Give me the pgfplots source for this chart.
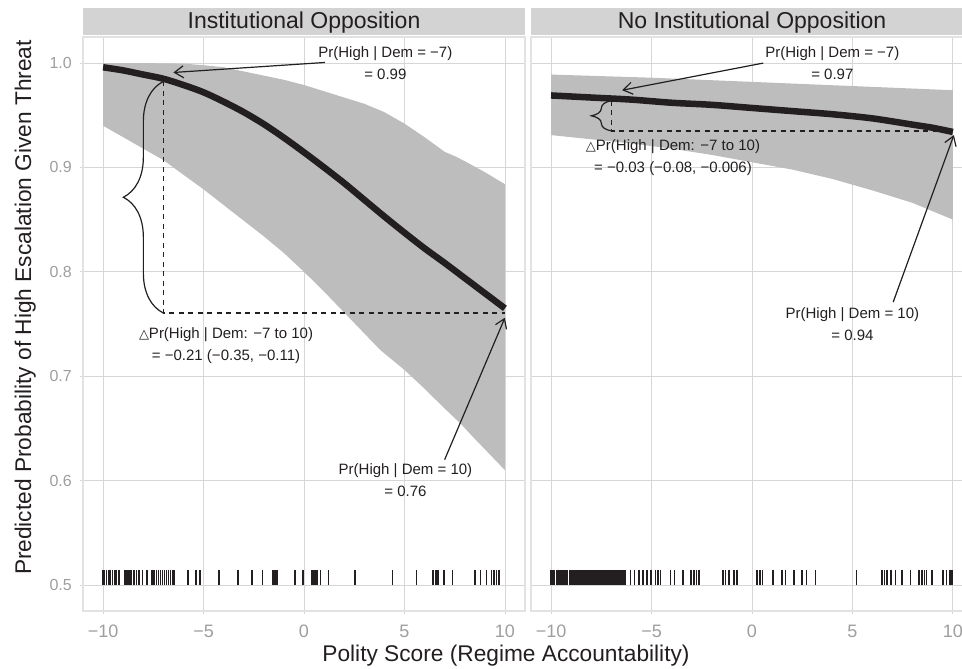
\documentclass[border=0pt]{standalone}
\usepackage{pgfplots}
\pgfplotsset{compat=1.18}
\usepgfplotslibrary{fillbetween}
\usetikzlibrary{arrows.meta,decorations.pathreplacing}
\usepackage{fontspec}
\setmainfont{Liberation Sans}
\newfontfamily\dejavu{DejaVu Sans}

\definecolor{band}{HTML}{BDBDBD}
\definecolor{gridc}{HTML}{D6D6D6}
\definecolor{borderc}{HTML}{E2E2E2}
\definecolor{stripc}{HTML}{D3D3D3}
\definecolor{tickc}{HTML}{9E9E9E}
\definecolor{ink}{HTML}{231F20}

\pgfplotsset{
  panel/.style={
    scale only axis, anchor=south west, height=574pt,
    ymin=0.475, ymax=1.025, xmin=-11,
    xtick={-10,-5,0,5,10}, xticklabels={−10,−5,0,5,10},
    ytick={0.5,0.6,0.7,0.8,0.9,1.0},
    xtick pos=bottom, ytick pos=left,
    grid=major, grid style={draw=gridc, line width=0.8pt},
    axis line style={draw=borderc, line width=1.2pt},
    tick align=outside, major tick length=3pt,
    tick style={draw=gridc, line width=0.8pt},
    xticklabel style={font=\fontsize{18}{18}\selectfont, text=tickc, inner sep=0pt, yshift=-11pt},
    yticklabel style={font=\fontsize{16}{16}\selectfont, text=tickc, inner sep=0pt, xshift=-8pt},
  },
  mean/.style={ink, line width=6.5pt, smooth, line cap=butt},
  rug/.style={only marks, mark=|, mark size=7.4pt, mark options={ink, line width=1.6pt}},
}
\tikzset{
  annot/.style={font=\fontsize{15}{22}\selectfont, align=center, text=ink},
  arr/.style={ink, line width=1.2pt, -{Straight Barb[length=9pt, width=12pt, line width=1.2pt]}},
  dashln/.style={ink, line width=1.3pt, dash pattern=on 5pt off 4.5pt},
  brc/.style={ink, line width=1.2pt, decorate},
}
\newcommand{\tri}{{\dejavu\fontsize{13}{13}\selectfont △}}

\begin{document}
\begin{tikzpicture}

% ---- Institutional Opposition ----
\begin{axis}[panel, at={(83pt,58pt)}, width=442pt, xmax=11,
  yticklabels={0.5,0.6,0.7,0.8,0.9,1.0}]
\addplot[name path=upL, draw=none, forget plot] coordinates {
 (-10,1.000) (-8,1.000) (-6,0.9995) (-5,0.998) (-4,0.996) (-3,0.992) (-2,0.988)
 (-1,0.984) (0,0.979) (1,0.973) (2,0.967) (3,0.961) (4,0.953) (5,0.942)
 (6,0.929) (7,0.915) (7.6,0.910) (8,0.906) (9,0.8955) (10,0.884)};
\addplot[name path=loL, draw=none, forget plot] coordinates {
 (-10,0.940) (-9,0.929) (-8,0.918) (-7,0.907) (-6,0.893) (-5,0.879) (-4,0.864)
 (-3,0.849) (-2,0.834) (-1,0.818) (0,0.800) (1,0.781) (2,0.761) (3,0.741)
 (3.8,0.725) (5,0.706) (6,0.688) (7,0.669) (7.77,0.655) (8.5,0.640) (9.3,0.624) (10,0.610)};
\addplot[band, draw=none] fill between[of=upL and loL];
\addplot[mean] coordinates {
 (-10,0.996) (-9,0.993) (-8,0.989) (-7,0.985) (-6,0.979) (-5,0.972) (-4,0.963)
 (-3,0.953) (-2,0.9415) (-1,0.9285) (0,0.9145) (1,0.900) (2,0.885) (3,0.869)
 (4,0.853) (5,0.8375) (6,0.8225) (7,0.8085) (8,0.794) (9,0.7795) (10,0.765)};
\addplot[rug] coordinates {
 (-10,0.5073) (-9.92,0.5073) (-9.83,0.5073) (-9.72,0.5073) (-9.63,0.5073) (-9.54,0.5073)
 (-9.42,0.5073) (-9.34,0.5073) (-9.22,0.5073) (-8.92,0.5073) (-8.84,0.5073) (-8.75,0.5073)
 (-8.67,0.5073) (-8.59,0.5073) (-8.46,0.5073) (-8.34,0.5073) (-8.21,0.5073) (-8.04,0.5073)
 (-7.81,0.5073) (-7.58,0.5073) (-7.48,0.5073) (-7.34,0.5073) (-7.24,0.5073) (-7.14,0.5073)
 (-7.05,0.5073) (-6.95,0.5073) (-6.85,0.5073) (-6.75,0.5073) (-6.65,0.5073) (-6.55,0.5073)
 (-6.46,0.5073) (-5.77,0.5073) (-5.39,0.5073) (-5.19,0.5073) (-4.22,0.5073) (-3.28,0.5073)
 (-2.60,0.5073) (-2.07,0.5073) (-1.53,0.5073) (-1.43,0.5073) (-1.33,0.5073) (-0.45,0.5073)
 (-0.04,0.5073) (0.38,0.5073) (0.46,0.5073) (0.56,0.5073) (0.66,0.5073) (0.82,0.5073)
 (1.21,0.5073) (2.53,0.5073) (4.41,0.5073) (5.60,0.5073) (6.43,0.5073) (6.57,0.5073)
 (6.68,0.5073) (6.97,0.5073) (7.40,0.5073) (8.51,0.5073) (8.79,0.5073) (9.09,0.5073)
 (9.34,0.5073) (9.46,0.5073) (9.59,0.5073) (9.72,0.5073)};
\draw[dashln] (axis cs:-7,0.9824) -- (axis cs:-7,0.7605) -- (axis cs:10,0.7605);
\draw[brc, decoration={brace, amplitude=40pt}] (axis cs:-7,0.7605) -- (axis cs:-7,0.9824);
\draw[arr] (axis cs:1.04,1.0006) -- (axis cs:-6.5,0.991);
\draw[arr] (axis cs:7.0,0.62) -- (axis cs:10.0,0.756);
\node[annot] at (axis cs:4.05,1.0) {Pr(High | Dem = −7)\\= 0.99};
\node[annot] at (axis cs:-3.88,0.7293) {\tri Pr(High | Dem: −7 to 10)\\= −0.21 (−0.35, −0.11)};
\node[annot] at (axis cs:5.05,0.600) {Pr(High | Dem = 10)\\= 0.76};
\end{axis}

% ---- No Institutional Opposition ----
\begin{axis}[panel, at={(531pt,58pt)}, width=431.9pt, xmax=10.5,
  yticklabels={}, ytick style={draw=none}]
\addplot[name path=upR, draw=none, forget plot] coordinates {
 (-10,0.989) (-5,0.986) (0,0.982) (5,0.978) (10,0.974)};
\addplot[name path=loR, draw=none, forget plot] coordinates {
 (-10,0.931) (-8,0.927) (-6,0.923) (-4,0.918) (-2,0.912) (0,0.905) (2,0.898)
 (4,0.889) (6,0.878) (8,0.866) (10,0.850)};
\addplot[band, draw=none] fill between[of=upR and loR];
\addplot[mean] coordinates {
 (-10,0.969) (-8,0.967) (-6,0.965) (-4,0.962) (-2,0.960) (0,0.957) (2,0.954)
 (4,0.951) (6,0.947) (8,0.941) (9,0.938) (10,0.934)};
\addplot[rug] coordinates {
 (-10,0.5073) (-9.92,0.5073) (-9.83,0.5073) (-9.73,0.5073) (-9.65,0.5073) (-9.57,0.5073)
 (-9.47,0.5073) (-9.37,0.5073) (-9.27,0.5073) (-9.19,0.5073) (-9.09,0.5073) (-9.00,0.5073)
 (-8.90,0.5073) (-8.80,0.5073) (-8.71,0.5073) (-8.61,0.5073) (-8.51,0.5073) (-8.41,0.5073)
 (-8.31,0.5073) (-8.21,0.5073) (-8.11,0.5073) (-8.01,0.5073) (-7.91,0.5073) (-7.81,0.5073)
 (-7.71,0.5073) (-7.61,0.5073) (-7.51,0.5073) (-7.41,0.5073) (-7.31,0.5073) (-7.21,0.5073)
 (-7.11,0.5073) (-7.01,0.5073) (-6.91,0.5073) (-6.81,0.5073) (-6.71,0.5073) (-6.61,0.5073)
 (-6.51,0.5073) (-6.41,0.5073) (-6.32,0.5073) (-6.05,0.5073) (-5.85,0.5073) (-5.63,0.5073)
 (-5.42,0.5073) (-5.22,0.5073) (-5.02,0.5073) (-4.80,0.5073) (-4.69,0.5073) (-4.56,0.5073)
 (-4.06,0.5073) (-3.86,0.5073) (-3.44,0.5073) (-3.03,0.5073) (-2.90,0.5073) (-2.76,0.5073)
 (-2.65,0.5073) (-1.45,0.5073) (-1.32,0.5073) (-1.15,0.5073) (-0.90,0.5073) (-0.74,0.5073)
 (0.26,0.5073) (0.39,0.5073) (0.52,0.5073) (1.05,0.5073) (1.50,0.5073) (1.67,0.5073)
 (2.08,0.5073) (2.50,0.5073) (2.71,0.5073) (3.16,0.5073) (5.20,0.5073) (6.48,0.5073)
 (6.60,0.5073) (6.73,0.5073) (6.93,0.5073) (7.15,0.5073) (7.48,0.5073) (7.89,0.5073)
 (8.31,0.5073) (8.47,0.5073) (8.59,0.5073) (8.69,0.5073) (8.97,0.5073) (9.52,0.5073)
 (9.68,0.5073) (9.85,0.5073) (9.97,0.5073)};
\draw[dashln] (axis cs:-7,0.964) -- (axis cs:-7,0.935) -- (axis cs:10,0.935);
\draw[brc, decoration={brace, amplitude=20pt}] (axis cs:-7,0.935) -- (axis cs:-7,0.964);
\draw[arr] (axis cs:0.56,1.0) -- (axis cs:-6.46,0.974);
\draw[arr] (axis cs:7.03,0.771) -- (axis cs:10.05,0.931);
\node[annot] at (axis cs:4.0,1.0) {Pr(High | Dem = −7)\\= 0.97};
\node[annot] at (axis cs:-3.93,0.909) {\tri Pr(High | Dem: −7 to 10)\\= −0.03 (−0.08, −0.006)};
\node[annot] at (axis cs:5.0,0.7496) {Pr(High | Dem = 10)\\= 0.94};
\end{axis}

% ---- facet strips and axis titles ----
\fill[stripc] (83pt,634pt) rectangle (525pt,661pt);
\fill[stripc] (531pt,634pt) rectangle (973pt,661pt);
\node[anchor=base, text=ink, font=\fontsize{23}{23}\selectfont] at (304pt,640pt) {Institutional Opposition};
\node[anchor=base, text=ink, font=\fontsize{23}{23}\selectfont] at (752pt,640pt) {No Institutional Opposition};
\node[anchor=base, rotate=90, text=ink, font=\fontsize{22.7}{23}\selectfont] at (31pt,361.5pt) {Predicted Probability of High Escalation Given Threat};
\node[anchor=base, text=ink, font=\fontsize{22.7}{23}\selectfont] at (506pt,7pt) {Polity Score (Regime Accountability)};

\pgfresetboundingbox
\path[use as bounding box] (0pt,0pt) rectangle (962pt,669pt);
\end{tikzpicture}
\end{document}
